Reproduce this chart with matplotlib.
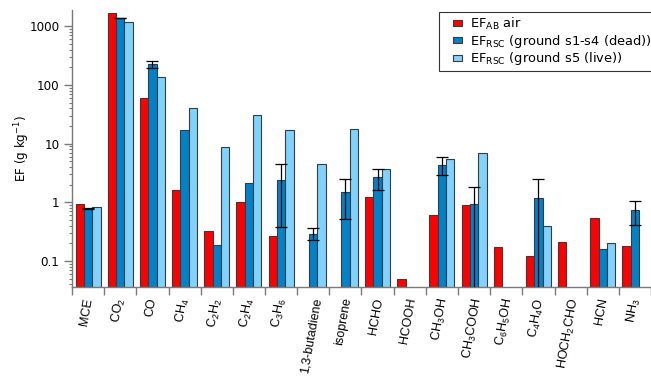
import numpy as np
import matplotlib
matplotlib.use("Agg")
import matplotlib.pyplot as plt
from matplotlib.ticker import FixedLocator, LogLocator, NullFormatter
from matplotlib.patches import Patch, Rectangle
from matplotlib.legend_handler import HandlerPatch

plt.rcParams['font.family'] = ['DejaVu Sans']
plt.rcParams['mathtext.default'] = 'regular'

categories = ['MCE', 'CO$_2$', 'CO', 'CH$_4$', 'C$_2$H$_2$', 'C$_2$H$_4$', 'C$_3$H$_6$',
              '1,3-butadiene', 'isoprene', 'HCHO', 'HCOOH', 'CH$_3$OH', 'CH$_3$COOH',
              'C$_6$H$_5$OH', 'C$_4$H$_4$O', 'HOCH$_2$CHO', 'HCN', 'NH$_3$']

nan = np.nan
ef_air = [0.92, 1675, 61, 1.65, 0.33, 1.0, 0.263, nan, nan, 1.23, 0.050, 0.61, 0.89,
          0.172, 0.12, 0.21, 0.55, 0.18]
ef_dead = [0.78, 1373, 224, 17, 0.19, 2.15, 2.37, 0.29, 1.47, 2.66, nan, 4.34, 0.92,
           nan, 1.17, nan, 0.16, 0.74]
ef_live = [0.83, 1186, 134, 41, 8.6, 30.7, 17, 4.57, 17.7, 3.66, nan, 5.37, 6.8,
           nan, 0.40, nan, 0.20, nan]
# error bar bounds for dead series (lower, upper); nan = no error bar
err_lo = [0.76, 1360, 194, nan, nan, nan, 0.38, 0.23, 0.52, 1.65, nan, 2.92, 1e-6,
          nan, 1e-6, nan, nan, 0.41]
err_hi = [0.81, 1400, 259, nan, nan, nan, 4.47, 0.36, 2.49, 3.76, nan, 5.97, 1.84,
          nan, 2.46, nan, nan, 1.07]

labels = [r'EF$_{AB}$ air', r'EF$_{RSC}$ (ground s1-s4 (dead))', r'EF$_{RSC}$ (ground s5 (live))']
colors = ['#FF0000', '#0082C8', '#80D2FF']
edge = '#3a3a3a'

fig = plt.figure(figsize=(6.51, 3.76), dpi=100)
ax = fig.add_axes([72/651, 1-286.5/376, 1-72/651, (286.5-10)/376])

x = np.arange(len(categories))
w = 0.26
for off, vals, c in zip([-w, 0, w], [ef_air, ef_dead, ef_live], colors):
    ax.bar(x + off, vals, width=w, color=c, edgecolor=edge, linewidth=0.8, zorder=2)

dead = np.array(ef_dead)
lo = np.array(err_lo); hi = np.array(err_hi)
mask = ~np.isnan(lo)
yerr = np.vstack([dead[mask] - lo[mask], hi[mask] - dead[mask]])
ax.errorbar(x[mask], dead[mask], yerr=yerr, fmt='none', ecolor='black',
            elinewidth=0.9, capsize=4, capthick=0.9, zorder=3)

ax.set_yscale('log')
ax.set_ylim(0.0368, 1890)
ax.set_xlim(-0.5, len(categories) - 0.5)

ax.yaxis.set_major_locator(FixedLocator([0.1, 1, 10, 100, 1000]))
ax.set_yticklabels(['0.1', '1', '10', '100', '1000'])
ax.yaxis.set_minor_locator(LogLocator(base=10, subs=np.arange(2, 10)))
ax.yaxis.set_minor_formatter(NullFormatter())

ax.xaxis.set_major_locator(FixedLocator(np.arange(len(categories) + 1) - 0.5))
ax.xaxis.set_major_formatter(NullFormatter())
ax.xaxis.set_minor_locator(FixedLocator(x - 0.05))
ax.set_xticklabels(categories, minor=True, rotation=80, ha='center', fontsize=9,
                   family=['Liberation Sans', 'DejaVu Sans'])

gray = '#7a7a7a'
for s in ['top', 'right']:
    ax.spines[s].set_visible(False)
for s in ['left', 'bottom']:
    ax.spines[s].set_color(gray)
    ax.spines[s].set_linewidth(1.0)
ax.tick_params(axis='y', which='major', length=6, width=1.0, color=gray, labelsize=8.6, pad=3)
ax.tick_params(axis='y', which='minor', length=2.5, width=0.8, color=gray)
ax.tick_params(axis='x', which='major', length=6, width=1.0, color=gray)
ax.tick_params(axis='x', which='minor', length=0, pad=7.5)

ax.set_ylabel('EF (g kg$^{-1}$)', fontsize=8.6, labelpad=-2)


def small_rect(legend, orig_handle, xdescent, ydescent, width, height, fontsize):
    rw, rh = 6.5, 4.4
    return Rectangle((-xdescent + width - rw, -ydescent + (height - rh) / 2), rw, rh)


handles = [Patch(facecolor=c, edgecolor=edge, linewidth=0.8) for c in colors]
leg = fig.legend(handles, labels, loc='upper left', bbox_to_anchor=(439/651, 1-12/376),
                 fontsize=9.4, frameon=True, fancybox=False, edgecolor='black',
                 handlelength=1.45, handleheight=0.6, handletextpad=0.65,
                 borderpad=0.28, labelspacing=0.06, borderaxespad=0.0,
                 handler_map={Patch: HandlerPatch(patch_func=small_rect)})
leg.get_frame().set_linewidth(0.8)

fig.savefig('out.png', dpi=100)
